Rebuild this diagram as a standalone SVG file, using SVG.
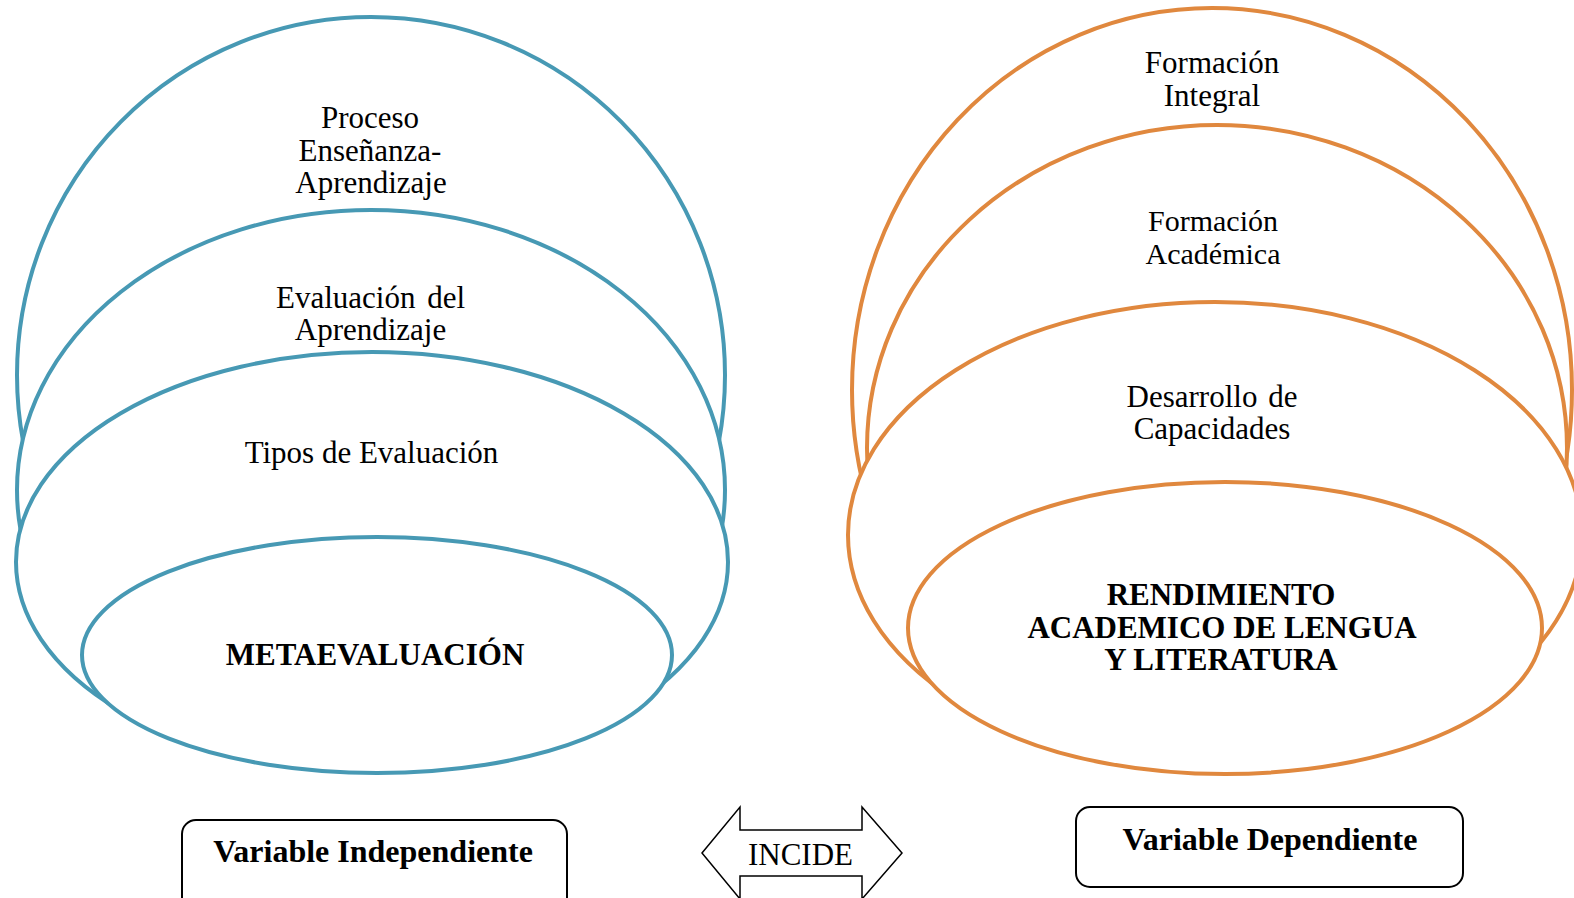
<svg xmlns="http://www.w3.org/2000/svg" width="1574" height="898" viewBox="0 0 1574 898">
<style>
.tl{fill:#fff;stroke:#4799b4;stroke-width:4}
.or{fill:#fff;stroke:#e0883e;stroke-width:4}
.tx{font-family:"Liberation Serif","Times New Roman",serif;font-size:31px;fill:#000;text-anchor:middle}
.s{font-size:30px}
.b{font-weight:bold}
.box{fill:#fff;stroke:#000;stroke-width:2}
</style>
<rect width="1574" height="898" fill="#fff"/>
<g id="left-group">
<g id="proceso">
<ellipse class="tl" cx="371" cy="375" rx="354" ry="358"/>
<text class="tx" x="370" y="128">Proceso</text>
<text class="tx" x="370" y="161">Enseñanza-</text>
<text class="tx" x="371" y="193">Aprendizaje</text>
</g>
<g id="evaluacion">
<ellipse class="tl" cx="371" cy="490" rx="354" ry="280"/>
<text class="tx" x="370.5" y="308" word-spacing="4">Evaluación del</text>
<text class="tx" x="370.5" y="340">Aprendizaje</text>
</g>
<g id="tipos">
<ellipse class="tl" cx="372" cy="562" rx="356" ry="210"/>
<text class="tx" x="371.5" y="463">Tipos de Evaluación</text>
</g>
<g id="metaevaluacion">
<ellipse class="tl" cx="377" cy="655" rx="295" ry="118"/>
<text class="tx b" x="375" y="665">METAEVALUACIÓN</text>
</g>
</g>
<g id="right-group">
<g id="formacion-integral">
<ellipse class="or" cx="1212" cy="390" rx="360" ry="382"/>
<text class="tx" x="1212" y="73">Formación</text>
<text class="tx" x="1212" y="106">Integral</text>
</g>
<g id="formacion-academica">
<ellipse class="or" cx="1217" cy="448" rx="350" ry="323"/>
<text class="tx s" x="1213" y="231">Formación</text>
<text class="tx s" x="1213" y="264">Académica</text>
</g>
<g id="desarrollo">
<ellipse class="or" cx="1215" cy="535" rx="367" ry="233"/>
<text class="tx" x="1212" y="407" word-spacing="3">Desarrollo de</text>
<text class="tx" x="1212" y="439">Capacidades</text>
</g>
<g id="rendimiento">
<ellipse class="or" cx="1225" cy="628" rx="317" ry="146"/>
<text class="tx b" x="1221" y="605">RENDIMIENTO</text>
<text class="tx b" x="1222" y="638">ACADEMICO DE LENGUA</text>
<text class="tx b" x="1221" y="670">Y LITERATURA</text>
</g>
</g>
<g id="var-independiente">
<rect class="box" x="182" y="820" width="385" height="92" rx="14"/>
<text class="tx b" x="373" y="862" style="font-size:32px">Variable Independiente</text>
</g>
<g id="var-dependiente">
<rect class="box" x="1076" y="807" width="387" height="80" rx="14"/>
<text class="tx b" x="1270" y="850" style="font-size:32px">Variable Dependiente</text>
</g>
<g id="connectors">
<g id="incide">
<polygon points="702,853 740,807 740,830 862,830 862,807 902,853 862,899 862,876 740,876 740,899" fill="#fff" stroke="#000" stroke-width="1.5" stroke-linejoin="miter"/>
<text class="tx" x="800.5" y="865">INCIDE</text>
</g>
</g>
</svg>
